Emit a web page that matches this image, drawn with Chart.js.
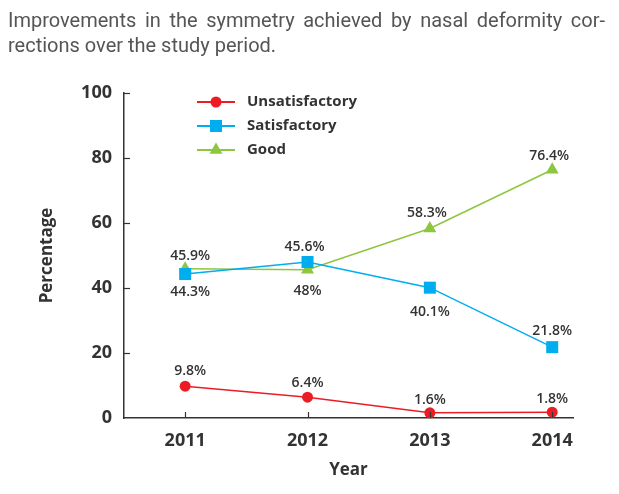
<!DOCTYPE html>
<html>

<head>
  <meta charset="UTF-8" />
  <title>Symmetry improvements</title>
  <script src="https://cdn.jsdelivr.net/npm/chart.js"></script>
  <style>
    body { margin: 0; background: #fff; }
    .wrap { position: relative; width: 619px; height: 494px; }
    .caption {
      position: absolute; left: 8px; top: 8px; width: 597px;
      font-family: Roboto, sans-serif; font-size: 20px; line-height: 25px; color: #555;
    }
    .caption .l1 { white-space: nowrap; text-align: justify; text-align-last: justify; }
    canvas { position: absolute; left: 0; top: 0; }
  </style>
</head>

<body>
  <div class="wrap">
    <canvas id="chart" width="619" height="494"></canvas>
    <div class="caption">
      <div class="l1">Improvements in the symmetry achieved by nasal deformity cor-</div>
      <div>rections over the study period.</div>
    </div>
  </div>
  <script>
    // data
    const years = [2011, 2012, 2013, 2014];
    const unsatisfactory = [9.8, 6.4, 1.6, 1.8];
    const satisfactory = [44.3, 48, 40.1, 21.8];
    const good = [45.9, 45.6, 58.3, 76.4];
    const yTicks = [0, 20, 40, 60, 80, 100];

    const RED = "#ec1c24";
    const BLUE = "#00aeef";
    const GREEN = "#8dc63f";
    const INK = "#333";

    const pts = (vals) => vals.map((v, i) => ({ x: years[i], y: v }));

    // labels above/below the marker, in px
    const makeSet = (label, vals, color, style, radius, dy, dx) => ({
      label: label,
      data: pts(vals),
      borderColor: color,
      backgroundColor: color,
      pointBackgroundColor: color,
      pointBorderColor: color,
      pointStyle: style,
      pointRadius: radius,
      pointHoverRadius: radius,
      borderWidth: 1.5,
      pointBorderWidth: 0,
      labelDy: dy,
      labelDx: dx,
    });

    const datasets = [
      makeSet("Unsatisfactory", unsatisfactory, RED, "circle", 5.5, [-15, -14, -13, -13], [5, 0, 0, 0]),
      makeSet("Satisfactory", satisfactory, BLUE, "rect", 8.5, [18, 29, 24, -16], [5, 0, 0, 0]),
      makeSet("Good", good, GREEN, "triangle", 7.5, [-13, -23, -16, -14], [5, -3, -3, -3]),
    ];

    const drawMarker = (ctx, style, x, y, r) => {
      ctx.beginPath();
      if (style === "circle") {
        ctx.arc(x, y, r, 0, Math.PI * 2);
      } else if (style === "rect") {
        const s = r * Math.SQRT1_2;
        ctx.rect(x - s, y - s, 2 * s, 2 * s);
      } else {
        const h = r * Math.sqrt(3) / 2;
        ctx.moveTo(x, y - r);
        ctx.lineTo(x + h, y + r / 2);
        ctx.lineTo(x - h, y + r / 2);
        ctx.closePath();
      }
      ctx.fill();
    };

    const extras = {
      id: "extras",
      afterDraw(chart) {
        const ctx = chart.ctx;
        const xs = chart.scales.x;
        const ys = chart.scales.y;
        ctx.save();
        // inward tick marks
        ctx.strokeStyle = INK;
        ctx.lineWidth = 1.2;
        yTicks.forEach((t) => {
          if (t === 0) return;
          const py = Math.round(ys.getPixelForValue(t)) + 0.5;
          ctx.beginPath();
          ctx.moveTo(xs.left, py);
          ctx.lineTo(xs.left + 6, py);
          ctx.stroke();
        });
        years.forEach((yr) => {
          const px = Math.round(xs.getPixelForValue(yr)) + 0.5;
          ctx.beginPath();
          ctx.moveTo(px, ys.bottom);
          ctx.lineTo(px, ys.bottom - 6);
          ctx.stroke();
        });

        // value labels
        ctx.font = "600 14px 'Open Sans'";
        ctx.fillStyle = INK;
        ctx.textAlign = "center";
        ctx.textBaseline = "middle";
        chart.data.datasets.forEach((ds, di) => {
          const meta = chart.getDatasetMeta(di);
          meta.data.forEach((el, i) => {
            ctx.fillText(ds.data[i].y + "%", el.x + ds.labelDx[i], el.y + ds.labelDy[i]);
          });
        });

        // legend: line + marker + text
        const lx0 = 197, lx1 = 235, mx = 216, tx = 247;
        const rows = [102, 126, 150];
        ctx.font = "bold 15px 'Open Sans'";
        ctx.textAlign = "left";
        chart.data.datasets.forEach((ds, i) => {
          const ly = rows[i];
          ctx.strokeStyle = ds.borderColor;
          ctx.lineWidth = 2;
          ctx.beginPath();
          ctx.moveTo(lx0, ly);
          ctx.lineTo(lx1, ly);
          ctx.stroke();
          ctx.fillStyle = ds.backgroundColor;
          drawMarker(ctx, ds.pointStyle, mx, ly, ds.pointRadius);
          ctx.fillStyle = INK;
          ctx.fillText(ds.label, tx, ly);
        });
        ctx.restore();
      },
    };

    new Chart(document.getElementById("chart"), {
      type: "line",
      data: { datasets: datasets },
      options: {
        responsive: false,
        animation: false,
        clip: false,
        layout: { padding: { top: 93, right: 46, left: 0, bottom: 0 } },
        plugins: { legend: { display: false }, tooltip: { enabled: false } },
        scales: {
          x: {
            type: "linear",
            min: 2010.5,
            max: 2014.17,
            afterBuildTicks: (scale) => { scale.ticks = years.map((v) => ({ value: v })); },
            afterFit: (scale) => { scale.height = 76; },
            grid: { display: false, drawTicks: false },
            border: { color: INK, width: 1.5 },
            ticks: {
              padding: 12,
              color: INK,
              font: { family: "Open Sans", size: 18, weight: "bold" },
              callback: (v) => String(v),
            },
            title: {
              display: true,
              text: "Year",
              color: INK,
              font: { family: "Open Sans", size: 17, weight: "bold" },
              padding: { bottom: 14 },
            },
          },
          y: {
            min: 0,
            max: 100,
            afterBuildTicks: (scale) => { scale.ticks = yTicks.map((v) => ({ value: v })); },
            afterFit: (scale) => { scale.width = 124; },
            grid: { display: false, drawTicks: false },
            border: { color: INK, width: 1.5 },
            ticks: {
              padding: 12,
              color: INK,
              font: { family: "Open Sans", size: 18, weight: "bold" },
            },
            title: {
              display: true,
              text: "Percentage",
              color: INK,
              font: { family: "Open Sans", size: 17, weight: "bold" },
              padding: { top: 37 },
            },
          },
        },
      },
      plugins: [extras],
    });
  </script>
</body>

</html>
